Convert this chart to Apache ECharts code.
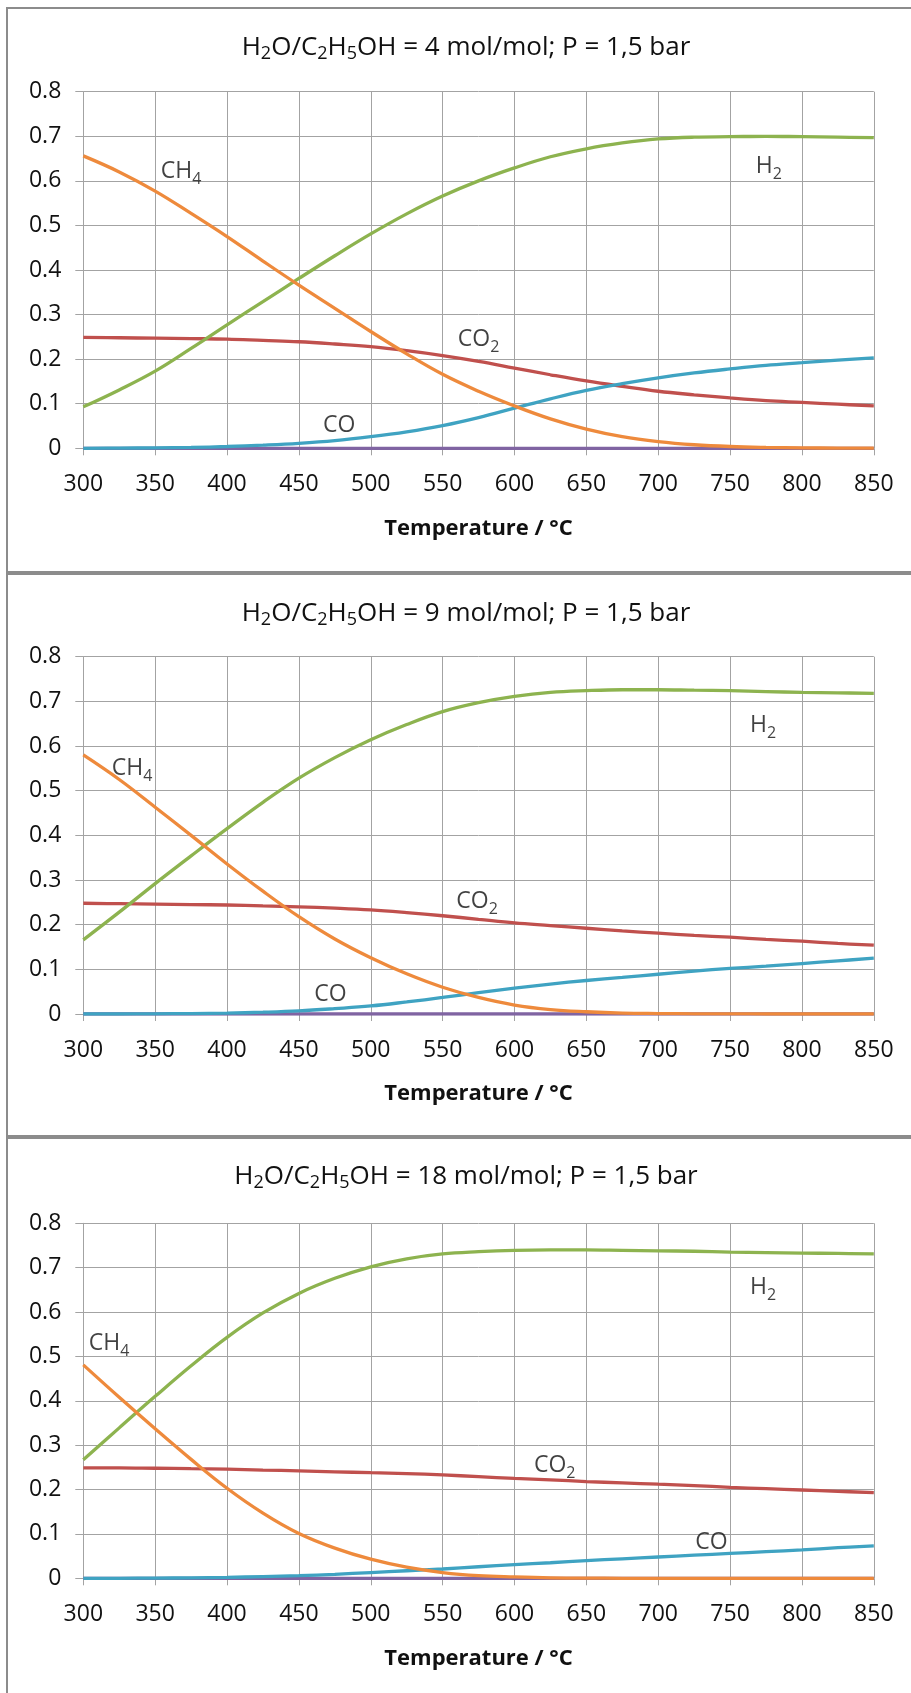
<!DOCTYPE html>
<html>
<head>
<meta charset="utf-8">
<title>Ethanol steam reforming equilibrium</title>
<script src="https://cdn.jsdelivr.net/npm/echarts@6/dist/echarts.min.js"></script>
<style>
  html, body { margin: 0; padding: 0; background: #fff; }
  #frame {
    position: absolute; left: 6px; top: 7px; width: 920px; height: 1700px;
    border-left: 2px solid #8c8c8c; border-top: 2px solid #8c8c8c;
  }
  .sep { position: absolute; left: 6px; width: 905px; height: 4px; background: #8c8c8c; }
  #chart { position: absolute; left: 0; top: 0; width: 911px; height: 1693px; }
</style>
</head>
<body>
<div id="frame"></div>
<div class="sep" style="top:571px"></div>
<div class="sep" style="top:1135px"></div>
<div id="chart"></div>
<script>
// temperatures, °C
var temps = [300, 325, 350, 375, 400, 425, 450, 475, 500, 525, 550, 575,
  600, 625, 650, 675, 700, 725, 750, 775, 800, 825, 850];

// H2O/C2H5OH = 4
var h2_4 = [0.093, 0.131, 0.173, 0.224, 0.277, 0.329, 0.381, 0.432, 0.481, 0.526, 0.566, 0.600,
  0.629, 0.654, 0.672, 0.685, 0.694, 0.698, 0.699, 0.700, 0.699, 0.698, 0.697];
var ch4_4 = [0.656, 0.620, 0.577, 0.527, 0.475, 0.420, 0.366, 0.314, 0.262, 0.212, 0.166, 0.128,
  0.095, 0.066, 0.043, 0.026, 0.015, 0.008, 0.004, 0.002, 0.001, 0.0005, 0.0003];
var co2_4 = [0.249, 0.248, 0.247, 0.246, 0.245, 0.242, 0.239, 0.234, 0.228, 0.219, 0.208, 0.195,
  0.180, 0.165, 0.151, 0.139, 0.128, 0.120, 0.113, 0.107, 0.103, 0.099, 0.095];
var co_4 = [0, 0.0005, 0.001, 0.002, 0.004, 0.007, 0.011, 0.017, 0.026, 0.037, 0.051, 0.069,
  0.090, 0.111, 0.130, 0.145, 0.158, 0.169, 0.178, 0.186, 0.192, 0.198, 0.203];

// H2O/C2H5OH = 9
var h2_9 = [0.166, 0.228, 0.292, 0.354, 0.415, 0.474, 0.528, 0.574, 0.614, 0.648, 0.677, 0.697,
  0.711, 0.720, 0.724, 0.726, 0.726, 0.725, 0.724, 0.722, 0.720, 0.719, 0.718];
var ch4_9 = [0.580, 0.525, 0.463, 0.400, 0.336, 0.275, 0.218, 0.168, 0.126, 0.090, 0.060, 0.037,
  0.020, 0.010, 0.005, 0.002, 0.001, 0.0005, 0.0002, 0, 0, 0, 0];
var co2_9 = [0.248, 0.247, 0.246, 0.245, 0.244, 0.242, 0.240, 0.237, 0.233, 0.227, 0.220, 0.212,
  0.204, 0.198, 0.192, 0.186, 0.181, 0.176, 0.172, 0.167, 0.163, 0.158, 0.154];
var co_9 = [0, 0, 0.0005, 0.001, 0.002, 0.004, 0.007, 0.012, 0.018, 0.027, 0.037, 0.048,
  0.058, 0.067, 0.075, 0.082, 0.089, 0.096, 0.102, 0.107, 0.113, 0.119, 0.125];

// H2O/C2H5OH = 18
var h2_18 = [0.267, 0.339, 0.410, 0.479, 0.543, 0.598, 0.642, 0.676, 0.702, 0.720, 0.731, 0.736,
  0.739, 0.740, 0.740, 0.739, 0.738, 0.737, 0.735, 0.734, 0.733, 0.732, 0.731];
var ch4_18 = [0.481, 0.408, 0.337, 0.268, 0.203, 0.147, 0.101, 0.068, 0.043, 0.025, 0.013, 0.006,
  0.003, 0.001, 0.0005, 0, 0, 0, 0, 0, 0, 0, 0];
var co2_18 = [0.249, 0.249, 0.248, 0.247, 0.246, 0.244, 0.242, 0.240, 0.238, 0.236, 0.233, 0.229,
  0.225, 0.222, 0.218, 0.215, 0.212, 0.209, 0.205, 0.202, 0.199, 0.196, 0.193];
var co_18 = [0, 0, 0.0005, 0.001, 0.002, 0.004, 0.006, 0.009, 0.013, 0.017, 0.021, 0.026,
  0.031, 0.035, 0.040, 0.044, 0.048, 0.052, 0.056, 0.060, 0.064, 0.069, 0.073];

// purple series, zero everywhere
var etoh = [0, 0, 0, 0, 0, 0, 0, 0, 0, 0, 0, 0, 0, 0, 0, 0, 0, 0, 0, 0, 0, 0, 0];

var titles = [
  "H2O/C2H5OH = 4 mol/mol; P = 1,5 bar",
  "H2O/C2H5OH = 9 mol/mol; P = 1,5 bar",
  "H2O/C2H5OH = 18 mol/mol; P = 1,5 bar"
];

// curve labels [temperature, fraction, text]
var labels_4 = [[368, 0.621, "CH4"], [777, 0.633, "H2"], [575, 0.245, "CO2"], [478, 0.052, "CO"]];
var labels_9 = [[334, 0.549, "CH4"], [773, 0.647, "H2"], [574, 0.253, "CO2"], [472, 0.044, "CO"]];
var labels_18 = [[318, 0.529, "CH4"], [773, 0.655, "H2"], [628, 0.254, "CO2"], [737, 0.080, "CO"]];

var panels = [
  { h2: h2_4, ch4: ch4_4, co2: co2_4, co: co_4, labels: labels_4 },
  { h2: h2_9, ch4: ch4_9, co2: co2_9, co: co_9, labels: labels_9 },
  { h2: h2_18, ch4: ch4_18, co2: co2_18, co: co_18, labels: labels_18 }
];

var gridTops = [91.7, 656.7, 1223.3];
var gridHeights = [356.6, 357.3, 355];
var titleY = [47.5, 613.5, 1176.5];

var FONT = "Open Sans";
var gridColor = "#a3a3a3";

// "CH4" -> rich text with subscript digits
function chem(str) {
  return "{n|" + str.replace(/([A-Za-z])(\d+)/g, "$1}{s|$2}{n|") + "}";
}

function pairs(ys) {
  return temps.map(function (t, i) { return [t, ys[i]]; });
}

var grids = [], xAxes = [], yAxes = [], series = [], graphics = [];

panels.forEach(function (p, k) {
  grids.push({ left: 83.3, top: gridTops[k], width: 790.5, height: gridHeights[k] });

  xAxes.push({
    gridIndex: k, type: "value", min: 300, max: 850, interval: 50,
    name: "Temperature / °C", nameLocation: "middle", nameGap: 69,
    nameTextStyle: { fontFamily: FONT, fontSize: 22, fontWeight: "bold", color: "#111" },
    axisLine: { show: true, lineStyle: { color: gridColor } },
    axisTick: { show: true, length: 7, lineStyle: { color: gridColor } },
    axisLabel: { fontFamily: FONT, fontSize: 23, color: "#111", margin: 25 },
    splitLine: { show: true, lineStyle: { color: gridColor, width: 1 } }
  });

  yAxes.push({
    gridIndex: k, type: "value", min: 0, max: 0.8, interval: 0.1,
    axisLine: { show: true, lineStyle: { color: gridColor } },
    axisTick: { show: true, length: 8, lineStyle: { color: gridColor } },
    axisLabel: { fontFamily: FONT, fontSize: 23, color: "#111", margin: 22 },
    splitLine: { show: true, lineStyle: { color: gridColor, width: 1 } }
  });

  var lines = [
    { name: "CO2", data: p.co2, color: "#c0504d" },
    { name: "H2", data: p.h2, color: "#8db34f" },
    { name: "C2H5OH", data: etoh, color: "#8064a2" },
    { name: "CO", data: p.co, color: "#3fa3c2" },
    { name: "CH4", data: p.ch4, color: "#ee8a3c" }
  ];
  lines.forEach(function (s) {
    series.push({
      type: "line", name: s.name, xAxisIndex: k, yAxisIndex: k,
      data: pairs(s.data), smooth: 0.4, showSymbol: false, silent: true,
      lineStyle: { color: s.color, width: 3.3 }, itemStyle: { color: s.color }
    });
  });

  series.push({
    type: "scatter", xAxisIndex: k, yAxisIndex: k, silent: true,
    symbolSize: 1, itemStyle: { color: "rgba(0,0,0,0)" },
    data: p.labels.map(function (l) { return { value: [l[0], l[1]], name: l[2] }; }),
    label: {
      show: true, position: "inside", color: "#111",
      formatter: function (d) { return chem(d.name); },
      rich: {
        n: { fontFamily: FONT, fontSize: 23, lineHeight: 30, color: "#111" },
        s: { fontFamily: FONT, fontSize: 16, lineHeight: 10, verticalAlign: "top",
          padding: [15, 0, 0, 0], color: "#111" }
      }
    },
    z: 5
  });

  graphics.push({
    type: "text", x: 466, y: titleY[k],
    style: {
      text: chem(titles[k]), align: "center", verticalAlign: "middle",
      rich: {
        n: { fontFamily: FONT, fontSize: 26, lineHeight: 33, fill: "#111" },
        s: { fontFamily: FONT, fontSize: 18, lineHeight: 10, verticalAlign: "top",
          padding: [14, 0, 0, 0], fill: "#111" }
      }
    }
  });
});

var chart = echarts.init(document.getElementById("chart"));
chart.setOption({
  animation: false,
  grid: grids,
  xAxis: xAxes,
  yAxis: yAxes,
  series: series,
  graphic: graphics
});
</script>
</body>
</html>
